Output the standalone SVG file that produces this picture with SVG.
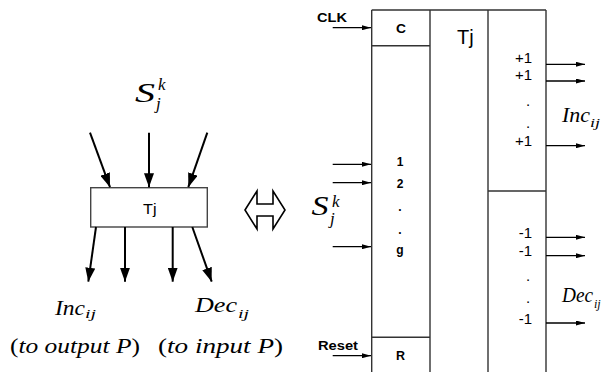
<svg xmlns="http://www.w3.org/2000/svg" width="611" height="372" viewBox="0 0 611 372">
<style>
.bg{fill:#fff}
.box{fill:#fff;stroke:#444;stroke-width:1.4}
.ln{stroke:#333;stroke-width:1.4;fill:none}
.big{stroke:#000;stroke-width:2;fill:none;marker-end:url(#ah)}
.sm{stroke:#000;stroke-width:1.3;fill:none;marker-end:url(#as)}
.b{font-family:"Liberation Sans",Arial,sans-serif;font-weight:bold;font-size:12px;fill:#000}
.r{font-family:"Liberation Sans",Arial,sans-serif;font-size:15px;fill:#000}
.m{font-family:"Liberation Serif","Times New Roman",serif;font-style:italic;fill:#000}
.u{font-family:"Liberation Serif","Times New Roman",serif;font-style:normal;fill:#000}
</style>
<defs>
<marker id="ah" viewBox="0 0 14 10" refX="14" refY="5" markerWidth="14" markerHeight="10" markerUnits="userSpaceOnUse" orient="auto"><path d="M0,0 L14,5 L0,10 z" fill="#000"/></marker>
<marker id="as" viewBox="0 0 9 5" refX="9" refY="2.5" markerWidth="9" markerHeight="5" markerUnits="userSpaceOnUse" orient="auto"><path d="M0,0 L9,2.5 L0,5 z" fill="#000"/></marker>
</defs>
<rect class="bg" width="611" height="372"/>

<g id="left-label-s">
<text class="m" x="135" y="101.5" font-size="27" textLength="20" lengthAdjust="spacingAndGlyphs">S</text>
<text class="m" x="158" y="90" font-size="17">k</text>
<text class="m" x="156" y="109" font-size="17">j</text>
</g>

<g id="tj-box">
<rect class="box" x="90.7" y="187.7" width="116.6" height="39.3"/>
<text class="r" x="143" y="213.5" style="font-size:14px" textLength="13.5" lengthAdjust="spacingAndGlyphs">Tj</text>
</g>

<g id="left-label-inc">
<text class="m" x="55" y="315" font-size="20" textLength="30" lengthAdjust="spacingAndGlyphs">Inc</text>
<text class="m" x="85" y="317.5" font-size="12" textLength="11" lengthAdjust="spacingAndGlyphs">ij</text>
<text x="10" y="352.5" font-size="20" textLength="130" lengthAdjust="spacingAndGlyphs"><tspan class="u">(</tspan><tspan class="m">to output P</tspan><tspan class="u">)</tspan></text>
</g>

<g id="left-label-dec">
<text class="m" x="195" y="312" font-size="20" textLength="42" lengthAdjust="spacingAndGlyphs">Dec</text>
<text class="m" x="238" y="317.5" font-size="12" textLength="11" lengthAdjust="spacingAndGlyphs">ij</text>
<text x="158" y="352.5" font-size="20" textLength="125" lengthAdjust="spacingAndGlyphs"><tspan class="u">(</tspan><tspan class="m">to input P</tspan><tspan class="u">)</tspan></text>
</g>

<g id="equivalence">
<polygon points="245,210 257,191 257,204 273,204 273,191 285,210 273,229 273,216 257,216 257,229" fill="#fff" stroke="#000" stroke-width="1.6" stroke-linejoin="miter"/>
</g>

<g id="tj-block">
<path class="ln" d="M371.7,10 H546 M371.7,10 V372 M430,10 V372 M488,10 V372 M546,10 V372 M371.7,45.7 H430 M371.7,337.3 H430 M488,191 H546"/>
<text class="b" x="396" y="32.5" textLength="10" lengthAdjust="spacingAndGlyphs">C</text>
<text class="r" x="457" y="44" style="font-size:20px">Tj</text>
<text class="b" x="400" y="165.5" text-anchor="middle">1</text>
<text class="b" x="400" y="187.5" text-anchor="middle">2</text>
<text class="b" x="400" y="211" text-anchor="middle">.</text>
<text class="b" x="400" y="234" text-anchor="middle">.</text>
<text class="b" x="400" y="254" text-anchor="middle">g</text>
<text class="b" x="400.5" y="360" text-anchor="middle" style="font-size:12.5px">R</text>
<text class="r" x="532" y="63" text-anchor="end">+1</text>
<text class="r" x="532" y="80" text-anchor="end">+1</text>
<text class="r" x="528" y="106" text-anchor="middle">.</text>
<text class="r" x="528" y="128" text-anchor="middle">.</text>
<text class="r" x="532" y="146" text-anchor="end">+1</text>
<text class="r" x="532" y="238" text-anchor="end">-1</text>
<text class="r" x="532" y="256" text-anchor="end">-1</text>
<text class="r" x="528" y="281" text-anchor="middle">.</text>
<text class="r" x="528" y="303" text-anchor="middle">.</text>
<text class="r" x="532" y="324" text-anchor="end">-1</text>
</g>

<g id="right-labels">
<text class="b" x="317" y="22" textLength="30" lengthAdjust="spacingAndGlyphs">CLK</text>
<text class="b" x="318" y="350" textLength="40" lengthAdjust="spacingAndGlyphs">Reset</text>
<text class="m" x="311.5" y="215" font-size="28" textLength="17" lengthAdjust="spacingAndGlyphs">S</text>
<text class="m" x="332" y="207" font-size="17">k</text>
<text class="m" x="330" y="224" font-size="17">j</text>
<text class="m" x="562" y="122" font-size="21" textLength="28" lengthAdjust="spacingAndGlyphs">Inc</text>
<text class="m" x="590" y="127" font-size="12" textLength="10" lengthAdjust="spacingAndGlyphs">ij</text>
<text class="m" x="562" y="302" font-size="20" textLength="31" lengthAdjust="spacingAndGlyphs">Dec</text>
<text class="m" x="594" y="308" font-size="12">ij</text>
</g>

<g id="connectors">
<line class="big" x1="90" y1="132.7" x2="110" y2="187.2"/>
<line class="big" x1="149" y1="132.7" x2="149" y2="187.2"/>
<line class="big" x1="207.3" y1="132.7" x2="188.3" y2="187.2"/>
<line class="big" x1="96" y1="227" x2="88.3" y2="281.7"/>
<line class="big" x1="125" y1="227" x2="125" y2="281.7"/>
<line class="big" x1="172.7" y1="227" x2="172.7" y2="281.7"/>
<line class="big" x1="192.3" y1="227" x2="211.7" y2="281.7"/>
<line class="sm" x1="332.7" y1="27.7" x2="371" y2="27.7"/>
<line class="sm" x1="332.7" y1="164.3" x2="371" y2="164.3"/>
<line class="sm" x1="332.7" y1="182.7" x2="371" y2="182.7"/>
<line class="sm" x1="332.7" y1="246.7" x2="371" y2="246.7"/>
<line class="sm" x1="332.7" y1="355.7" x2="371" y2="355.7"/>
<line class="sm" x1="546" y1="64.3" x2="585" y2="64.3"/>
<line class="sm" x1="546" y1="81" x2="585" y2="81"/>
<line class="sm" x1="546" y1="145.7" x2="585" y2="145.7"/>
<line class="sm" x1="546" y1="237.3" x2="585" y2="237.3"/>
<line class="sm" x1="546" y1="255.7" x2="585" y2="255.7"/>
<line class="sm" x1="546" y1="323" x2="585" y2="323"/>
</g>
</svg>
